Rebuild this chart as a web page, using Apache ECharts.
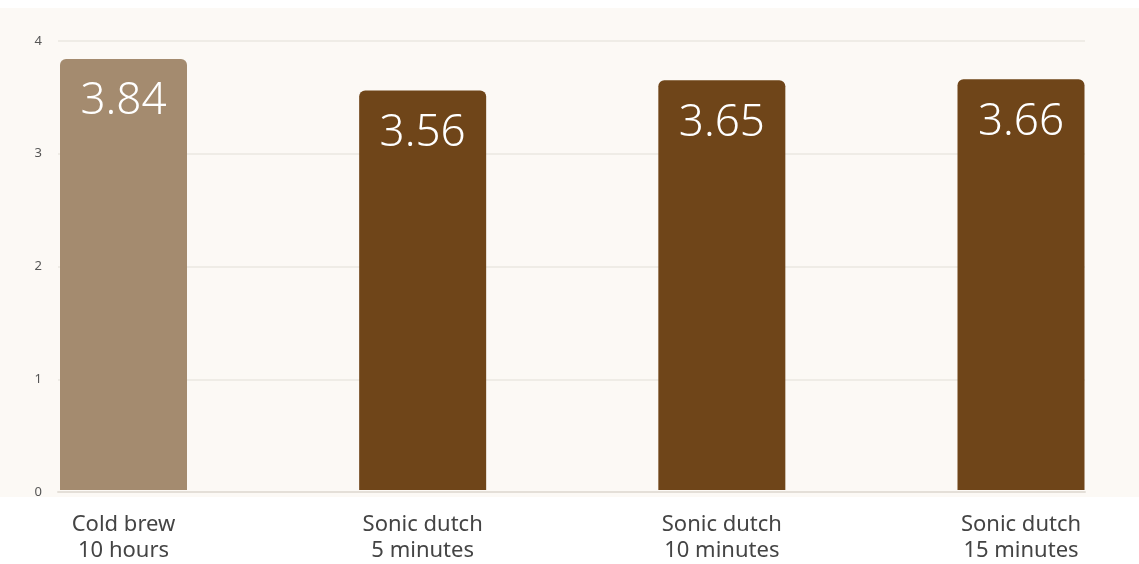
<!DOCTYPE html>
<html>
<head>
<meta charset="utf-8">
<script src="https://cdn.jsdelivr.net/npm/echarts@6/dist/echarts.min.js"></script>
<style>
html,body{margin:0;padding:0;background:#ffffff;}
#chart{width:1139px;height:564px;}
</style>
</head>
<body>
<div id="chart"></div>
<script>
const categories = ['Cold brew\n10 hours', 'Sonic dutch\n5 minutes', 'Sonic dutch\n10 minutes', 'Sonic dutch\n15 minutes'];
const values = [3.84, 3.56, 3.65, 3.66];
const barColors = ['#a48b6f', '#6f4519', '#6f4519', '#6f4519'];
const yTicks = [0, 1, 2, 3, 4];

const chart = echarts.init(document.getElementById('chart'), null, {renderer: 'canvas'});
const fontFam = '"Noto Sans", "Open Sans", sans-serif';
chart.setOption({
  backgroundColor: '#ffffff',
  animation: false,
  graphic: [{
    type: 'rect', left: 0, top: 8, z: -10,
    shape: {width: 1139, height: 489},
    style: {fill: '#fcf9f5'}
  }],
  grid: [
    {left: 58, right: 54, top: 41, bottom: 72},
    {left: 123.5, right: 118, top: 41, bottom: 72}
  ],
  xAxis: [
    {gridIndex: 0, type: 'category', data: categories, boundaryGap: false,
     axisLine: {show: true, lineStyle: {color: '#e4dfd8', width: 2}},
     axisTick: {show: false}, axisLabel: {show: false}, splitLine: {show: false}},
    {gridIndex: 1, type: 'category', data: categories, boundaryGap: false,
     axisLine: {show: false}, axisTick: {show: false},
     axisLabel: {show: true, margin: 22, fontSize: 22, lineHeight: 26, color: '#444444', fontFamily: fontFam, align: 'center'}}
  ],
  yAxis: [
    {gridIndex: 0, type: 'value', min: yTicks[0], max: yTicks[yTicks.length - 1], interval: 1,
     axisLine: {show: false}, axisTick: {show: false},
     axisLabel: {margin: 16, fontSize: 13, color: '#555555', fontFamily: fontFam},
     splitLine: {show: true, lineStyle: {color: '#ebe7e1', width: 1.5}}},
    {gridIndex: 1, type: 'value', min: yTicks[0], max: yTicks[yTicks.length - 1], interval: 1,
     show: false, splitLine: {show: false}}
  ],
  series: [{
    type: 'bar', xAxisIndex: 1, yAxisIndex: 1,
    barWidth: 127,
    data: values.map((v, i) => ({value: v, itemStyle: {color: barColors[i]}})),
    itemStyle: {borderRadius: [6, 6, 0, 0]},
    label: {
      show: true, position: 'insideTop', distance: 21,
      color: '#ffffff', fontSize: 44, fontFamily: fontFam, fontWeight: 300,
      formatter: p => p.value.toFixed(2)
    }
  }]
});
</script>
</body>
</html>
